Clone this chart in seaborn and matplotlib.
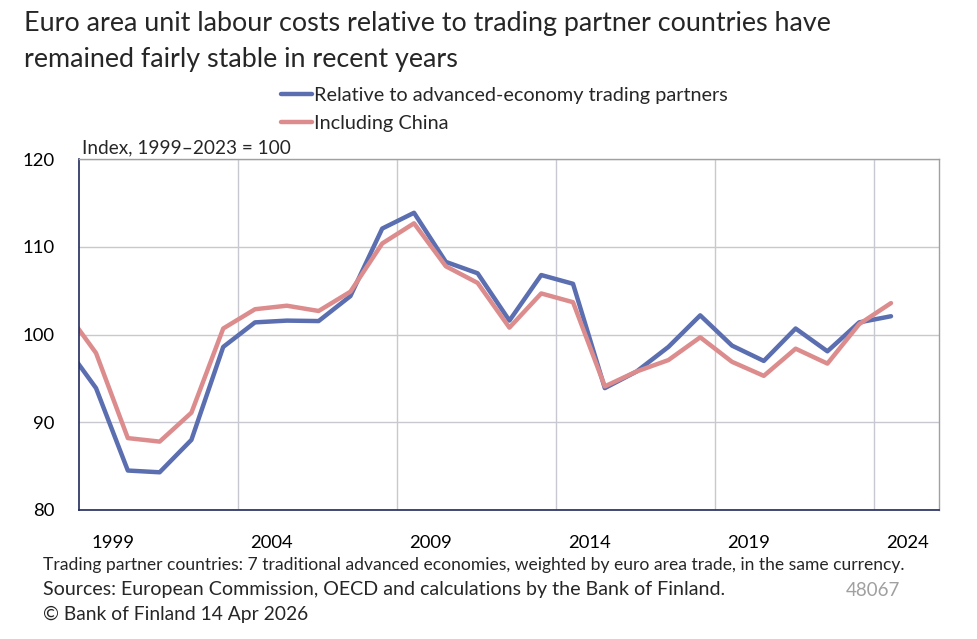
import numpy as np
import pandas as pd
import matplotlib.pyplot as plt
import seaborn as sns

# annual index values, 1999-2023 = 100 (1998 only used for the clipped left edge)
years = list(range(1998, 2025))
advanced = [98.9, 93.9, 84.5, 84.3, 88.0, 98.6, 101.4, 101.6, 101.55, 104.4,
            112.1, 113.9, 108.3, 107.0, 101.6, 106.8, 105.8, 93.9, 95.8, 98.6,
            102.2, 98.75, 97.0, 100.7, 98.1, 101.4, 102.1]
with_china = [102.9, 97.9, 88.2, 87.8, 91.1, 100.7, 102.9, 103.3, 102.7, 104.9,
              110.4, 112.7, 107.8, 105.9, 100.8, 104.7, 103.7, 94.1, 95.8, 97.1,
              99.7, 96.9, 95.3, 98.4, 96.7, 101.2, 103.6]
label_years = [1999, 2004, 2009, 2014, 2019, 2024]
series_names = ["Relative to advanced-economy trading partners", "Including China"]

df = pd.DataFrame({"year": years * 2,
                   "value": advanced + with_china,
                   "series": [series_names[0]] * len(years) + [series_names[1]] * len(years)})

sns.set_style("white")
plt.rcParams["font.family"] = ["Lato", "DejaVu Sans"]

fig = plt.figure(figsize=(9.77, 6.39), dpi=100)
ax = fig.add_axes([0.0812, 0.2019, 0.8796, 0.5488])

sns.lineplot(data=df, x="year", y="value", hue="series",
             palette=["#5a6eb0", "#dc8c8c"], linewidth=3.2, ax=ax,
             solid_capstyle="round")

ax.set_xlim(1998.475, 2025.5)
ax.set_ylim(80, 120)
ax.set_yticks([80, 90, 100, 110, 120])
ax.set_xticks([y + 0.525 for y in label_years])
ax.set_xticklabels([str(y) for y in label_years])
ax.set_xticks([y - 0.525 for y in label_years[1:]], minor=True)
ax.tick_params(axis="both", which="both", length=0, labelsize=13.3, colors="black")
ax.tick_params(axis="x", pad=18)
ax.tick_params(axis="y", pad=18)
ax.grid(True, which="minor", axis="x", color="#c8c8d0", linewidth=1.0)
ax.grid(True, which="major", axis="y", color="#c8c8d0", linewidth=1.0)
ax.set_axisbelow(True)
ax.set_xlabel("")
ax.set_ylabel("")

for side in ["top", "right"]:
    ax.spines[side].set_color("#a0a0a4")
    ax.spines[side].set_linewidth(1.0)
for side in ["left", "bottom"]:
    ax.spines[side].set_color("#202a5c")
    ax.spines[side].set_linewidth(1.2)

sns.move_legend(ax, "upper left", bbox_to_anchor=(281 / 977, 1 - 87 / 639),
                bbox_transform=fig.transFigure, frameon=False, title=None,
                fontsize=14.3, handlelength=1.55, handletextpad=0.12,
                labelspacing=0.55, borderpad=0, borderaxespad=0)

fig.text(24 / 977, 1 - 24 / 639,
         "Euro area unit labour costs relative to trading partner countries have",
         fontsize=19.4, va="center", ha="left")
fig.text(24 / 977, 1 - 60 / 639, "remained fairly stable in recent years",
         fontsize=19.4, va="center", ha="left")
fig.text(82 / 977, 1 - 148 / 639, "Index, 1999\u20132023 = 100",
         fontsize=13.7, va="center", ha="left")

fig.text(43 / 977, 1 - 565 / 639,
         "Trading partner countries: 7 traditional advanced economies, weighted by euro area trade, in the same currency.",
         fontsize=12.6, va="center", ha="left")
fig.text(43 / 977, 1 - 590 / 639,
         "Sources: European Commission, OECD and calculations by the Bank of Finland.",
         fontsize=14.1, va="center", ha="left")
fig.text(43 / 977, 1 - 614 / 639, "\u00a9 Bank of Finland 14 Apr 2026",
         fontsize=13.9, va="center", ha="left")
fig.text(846 / 977, 1 - 590 / 639, "48067", fontsize=13.5, color="#a0a0a0",
         va="center", ha="left")

fig.savefig("out.png", dpi=100)
